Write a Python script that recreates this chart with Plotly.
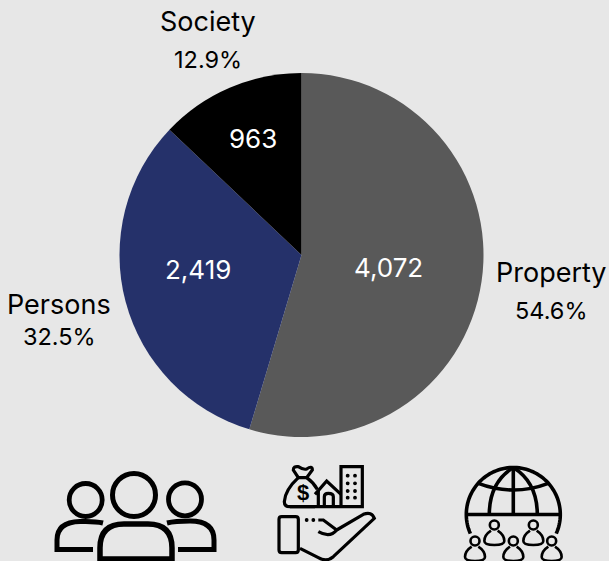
import numpy as np
import plotly.graph_objects as go

categories = ["Property", "Persons", "Society"]
values = [4072, 2419, 963]
percents = ["54.6%", "32.5%", "12.9%"]
colors = ["#595959", "#25316A", "#000000"]

W, H = 609, 561
BG = "#E7E7E7"
FONT = "Inter"

def X(v): return v / W
def Y(v): return 1 - v / H

fig = go.Figure(go.Pie(
    labels=categories, values=values, sort=False, direction="clockwise", rotation=0,
    marker=dict(colors=colors, line=dict(width=0)),
    textinfo="none", hoverinfo="label+value+percent", showlegend=False,
    domain=dict(x=[X(119.5), X(483.5)], y=[Y(437), Y(73)]),
))

ann = []
def text(x, y, s, size=26, color="black", **kw):
    ann.append(dict(x=X(x), y=Y(y), xref="paper", yref="paper", text=s, showarrow=False,
                    font=dict(family=FONT, size=size, color=color), xanchor="center", yanchor="middle", **kw))

val_pos = [(388, 267), (198, 269), (253, 138)]
name_pos = [(551, 273), (59, 304), (208, 22)]
pct_pos = [(551, 310), (59, 336), (208, 59)]
tick_labels = [f"{v:,}" for v in values]
for c, p, lab, vp, np_, pp in zip(categories, percents, tick_labels, val_pos, name_pos, pct_pos):
    text(vp[0], vp[1], lab, color="white")
    text(np_[0], np_[1], c, size=27)
    text(pp[0], pp[1], p, size=23.5)

shapes = []
def path(d, w=4.5, fill=None):
    out = []
    is_x = True
    for t in d.split():
        if t.isalpha():
            out.append(t); is_x = True
        else:
            v = float(t)
            out.append(f"{X(v):.5f}" if is_x else f"{Y(v):.5f}")
            is_x = not is_x
    s = dict(type="path", xref="paper", yref="paper", path=" ".join(out),
             line=dict(color="black", width=w))
    if fill: s["fillcolor"] = fill
    shapes.append(s)

def circle(cx, cy, r, w=4.5, fill=None):
    s = dict(type="circle", xref="paper", yref="paper", x0=X(cx - r), x1=X(cx + r),
             y0=Y(cy + r), y1=Y(cy - r), line=dict(color="black", width=w))
    if fill: s["fillcolor"] = fill
    shapes.append(s)

# people icon
circle(134, 495, 21.5, 5)
circle(85.7, 500, 16.5, 4.8)
circle(185, 499.3, 16.5, 4.8)
path("M 100 563 L 100 548 Q 100 524 124 524 L 148 524 Q 172 524 172 548 L 172 559 L 100 559", 5.5)
path("M 103 523 Q 95 521 80 521.5 Q 57 522 57 540 L 57 549.5 L 93 549.5", 5)
path("M 167 523 Q 175 521 190 521 Q 214 521 214 540 L 214 549.5 L 178 549.5", 5)

def zp(d, ox, oy):
    out = []; is_x = True
    for t in d.split():
        if t.isalpha():
            out.append(t); is_x = True
        else:
            v = float(t)
            out.append(f"{(ox + v/3) if is_x else (oy + v/3):.2f}")
            is_x = not is_x
    return " ".join(out)

# property icon
ox, oy = 265, 455
w = 3.2
path(zp("M 50 185 L 92 185 Q 100 185 100 193 L 100 285 Q 100 293 92 293 L 50 293 Q 42 293 42 285 L 42 193 Q 42 185 50 185 Z", ox, oy), w)
path(zp("M 160 195 L 175 195 L 215 225 Q 195 250 160 230", ox, oy), w)
path(zp("M 215 225 L 295 178 Q 320 168 328 190 L 205 305 Q 185 322 160 308 L 105 280", ox, oy), w)
for zx in (125, 145):
    circle(ox + zx/3, oy + 195/3, 1.2, 1.4, "black")
path(zp("M 75 155 L 292 155 L 292 35 L 228 35 L 228 155", ox, oy), w)
for zx in (248, 270):
    for zy in (62, 85, 108, 128):
        circle(ox + zx/3, oy + zy/3, 1.2, 1.4, "black")
path(zp("M 150 118 L 185 78 L 228 118", ox, oy), w)
path(zp("M 160 108 L 160 155", ox, oy), w)
path(zp("M 178 155 L 178 125 Q 178 115 190 115 Q 205 115 205 125 L 205 155", ox, oy), w)
path(zp("M 100 68 L 85 45 Q 85 33 100 35 Q 115 45 125 42 Q 142 30 142 45 L 125 68 Z", ox, oy), w)
path(zp("M 100 68 Q 60 105 58 140 Q 58 155 75 155 L 150 155", ox, oy), w)
path(zp("M 125 68 Q 145 82 157 103", ox, oy), w)
ann.append(dict(x=X(ox + 113/3), y=Y(oy + 112/3), xref="paper", yref="paper", text="<b>$</b>", showarrow=False,
                font=dict(family="Liberation Sans", size=22, color="black"), xanchor="center", yanchor="middle"))

# globe icon
ox, oy = 450, 455
cx, cy, r = 513.3, 514.5, 47
w = 3.6
th = np.radians(np.linspace(-24, 204, 80))
gx = cx + r * np.cos(th); gy = cy - r * np.sin(th)
path("M " + " L ".join(f"{a:.2f} {b:.2f}" for a, b in zip(gx, gy)), w)
path(f"M {cx-r} {cy} L {cx+r} {cy}", w)
path(f"M {cx} {cy-r} L {cx} {cy}", w)
path(f"M {cx} {cy-r} Q {cx-24} {cy-32} {cx-24} {cy}", w)
path(f"M {cx} {cy-r} Q {cx+24} {cy-32} {cx+24} {cy}", w)
path(zp("M 85 85 Q 190 125 295 85", ox, oy), w)
wp = 2.6
for zx, zy in [(133, 210), (250, 210), (75, 258), (190, 258), (305, 258)]:
    circle(ox + zx/3, oy + zy/3, 4.5, wp)
    path(zp(f"M {zx-10} {zy+17} Q {zx-30} {zy+30} {zx-30} {zy+48} Q {zx-30} {zy+60} {zx} {zy+60} Q {zx+30} {zy+60} {zx+30} {zy+48} Q {zx+30} {zy+30} {zx+10} {zy+17}", ox, oy), wp)

fig.update_layout(width=W, height=H, margin=dict(l=0, r=0, t=0, b=0), paper_bgcolor=BG,
                  annotations=ann, shapes=shapes, showlegend=False)
fig.write_html("out.html", config=dict(displayModeBar=False),
               post_script="document.body.style.margin='0';document.body.style.background='#E7E7E7';document.body.style.overflow='hidden';")
